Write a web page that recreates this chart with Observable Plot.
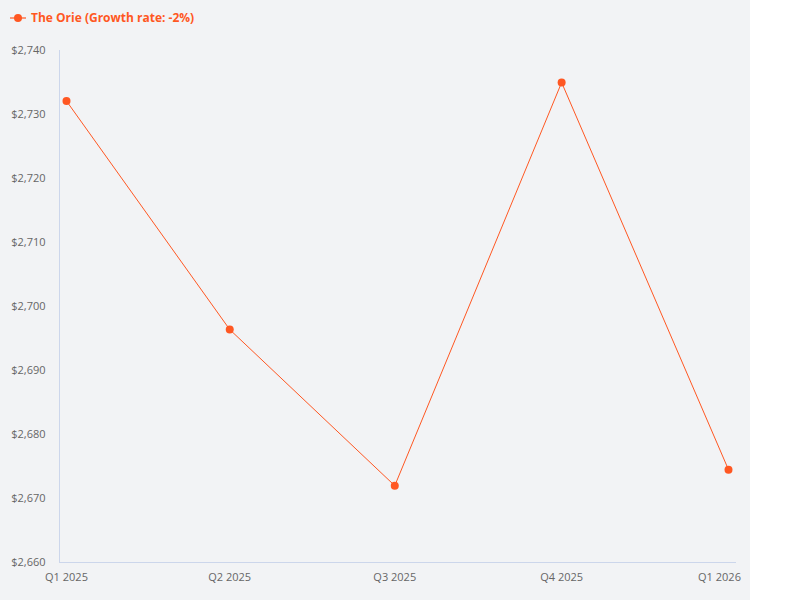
<!DOCTYPE html>
<html>
<head>
<meta charset="utf-8">
<script src="https://cdn.jsdelivr.net/npm/d3@7"></script>
<script src="https://cdn.jsdelivr.net/npm/@observablehq/plot@0.6"></script>
<style>
  html, body { margin: 0; padding: 0; background: #ffffff; }
  #wrap { width: 750px; height: 600px; background: #f2f3f5; font-family: "Open Sans", sans-serif; }
  #legend { height: 35px; display: flex; align-items: center; padding-left: 10px; box-sizing: border-box; }
  #legend .key { position: relative; width: 16px; height: 10px; margin-right: 5px; }
  #legend .key .ln { position: absolute; left: 0; right: 0; top: 4px; height: 2px; background: #ff5722; opacity: 0.6; }
  #legend .key .dt { position: absolute; left: 4px; top: 1px; width: 8px; height: 8px; border-radius: 50%; background: #ff5722; }
  #legend .lbl { color: #ff5722; font-weight: 700; font-size: 12px; }
  svg { display: block; }
</style>
</head>
<body>
<div id="wrap">
  <div id="legend"><div class="key"><div class="ln"></div><div class="dt"></div></div><span class="lbl" id="lbl"></span></div>
  <div id="chart"></div>
</div>
<script>
const seriesName = "The Orie (Growth rate: -2%)";
const quarters = ["Q1 2025", "Q2 2025", "Q3 2025", "Q4 2025", "Q1 2026"];
const quarterDates = ["2025-01-01", "2025-04-01", "2025-07-01", "2025-10-01", "2026-01-01"];
const values = [2732.1, 2696.4, 2672.0, 2735.0, 2674.5];
const yTicks = [2660, 2670, 2680, 2690, 2700, 2710, 2720, 2730, 2740];

const color = "#ff5722";
document.getElementById("lbl").textContent = seriesName;

const dates = quarterDates.map(s => new Date(s + "T00:00:00Z"));
const data = quarters.map((q, i) => ({quarter: q, date: dates[i], value: values[i]}));
const labelOf = new Map(dates.map((d, i) => [+d, quarters[i]]));
const fmtX = d => labelOf.get(+d) ?? "";
const fmtY = v => "$" + d3.format(",")(v);

const chart = Plot.plot({
  width: 750,
  height: 565,
  marginLeft: 59,
  marginRight: 15,
  marginTop: 15,
  marginBottom: 38,
  style: {background: "transparent", fontFamily: "Open Sans, sans-serif", fontSize: "11px", color: "#666"},
  x: {type: "utc", domain: [dates[0], dates[dates.length - 1]], insetLeft: 7, insetRight: 7, label: null},
  y: {domain: [2660, 2740], label: null},
  marks: [
    Plot.frame({anchor: "left", stroke: "#ccd6eb"}),
    Plot.frame({anchor: "bottom", stroke: "#ccd6eb"}),
    Plot.axisY({ticks: yTicks, tickSize: 0, tickPadding: 14, tickFormat: fmtY, fill: "#666", fontSize: 11}),
    Plot.axisX({ticks: dates.slice(0, 4), tickSize: 0, tickPadding: 11, tickFormat: fmtX, fill: "#666", fontSize: 11}),
    Plot.axisX({ticks: dates.slice(4), tickSize: 0, tickPadding: 11, dx: -9, tickFormat: fmtX, fill: "#666", fontSize: 11}),
    Plot.line(data, {x: "date", y: "value", stroke: color, strokeWidth: 1}),
    Plot.dot(data, {x: "date", y: "value", fill: color, r: 4})
  ]
});
document.getElementById("chart").appendChild(chart);
</script>
</body>
</html>
